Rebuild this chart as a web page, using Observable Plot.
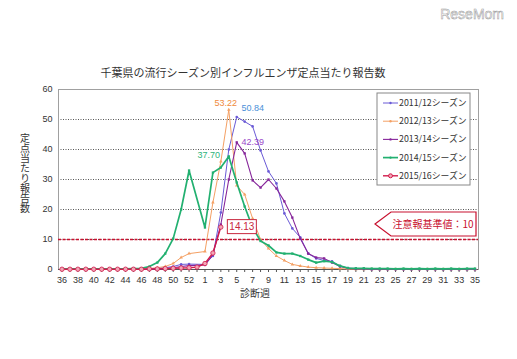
<!DOCTYPE html>
<html><head><meta charset="utf-8">
<script src="https://cdn.jsdelivr.net/npm/d3@7"></script>
<script src="https://cdn.jsdelivr.net/npm/@observablehq/plot@0.6"></script>
<style>body{margin:0;background:#fff}#chart{width:517px;height:359px}</style>
</head><body><div id="chart"></div>
<script>
// ---- data ----
const weeks = ["36","37","38","39","40","41","42","43","44","45","46","47","48","49","50","51","52","53",
  "1","2","3","4","5","6","7","8","9","10","11","12","13","14","15","16","17","18","19","20",
  "21","22","23","24","25","26","27","28","29","30","31","32","33","34","35"];
const seasons = ["2011/12シーズン","2012/13シーズン","2013/14シーズン","2014/15シーズン","2015/16シーズン"];
const s2011 = [0.1,0.1,0.1,0.1,0.1,0.1,0.1,0.1,0.1,0.2,0.2,0.3,0.4,0.6,1.0,1.7,1.8,null,
  1.7,4.5,19,40,50.84,49.3,47.7,39.7,32.7,28.7,18.7,13.7,10.7,5.3,3.7,3.0,2.7,1.2,0.5,0.3,
  0.2,0.1,0.1,0.1,0.1,0.1,0.1,0.1,0.1,0.1,0.1,0.1,0.1,0.1,0.1];
const s2012 = [0.1,0.1,0.1,0.1,0.1,0.1,0.1,0.1,0.1,0.1,0.2,0.3,0.6,1.0,2.0,4.0,5.3,null,
  6.0,22.3,36,53.22,28,25,17,10,7,4.5,3,1.7,1.2,0.8,0.6,0.5,0.4,0.3,0.2,0.1,
  0.1,0.1,0.1,0.1,0.1,0.1,0.1,0.1,0.1,0.1,0.1,0.1,0.1,0.1,0.1];
const s2013 = [0.1,0.1,0.1,0.1,0.1,0.1,0.1,0.1,0.1,0.1,0.1,0.1,0.2,0.3,0.6,1.0,1.3,null,
  1.5,5.0,15,30,42.39,38.7,29.7,27.3,30,27,22.7,17.3,10.3,5.3,4.0,3.7,2.3,1.0,0.4,0.2,
  0.2,0.1,0.1,0.1,0.1,0.1,0.1,0.1,0.1,0.1,0.1,0.1,0.1,0.1,0.1];
const s2014 = [0.2,0.2,0.2,0.2,0.2,0.2,0.2,0.2,0.2,0.3,0.4,1.0,2.3,5.3,10.3,20,33,null,
  14,32.3,34,37.7,29,21,14,9.5,8,5.7,5.3,5.3,4.5,3.3,2.3,2.8,2.5,1.2,0.5,0.4,
  0.4,0.3,0.3,0.3,0.2,0.3,0.2,0.3,0.2,0.3,0.2,0.3,0.2,0.3,0.3];
const s2015 = [0.1,0.1,0.1,0.1,0.1,0.1,0.1,0.1,0.1,0.1,0.1,0.2,0.2,0.3,0.4,0.5,0.6,0.8,
  2.0,5.5,14.13];
const seriesValues = [s2011, s2012, s2013, s2014, s2015];
const colors = ["#6a5ad6","#f4a064","#86259a","#22b070","#d21c4c"];
const labelColors = ["#4a90d8","#f08a3c","#9a48c8","#2eb47c","#c8283e"];
const peakWeeks = ["5","4","5","4","3"];
const peakLabels = ["50.84","53.22","42.39","37.70","14.13"];
const symbols = ["circle","triangle","square","square","circle"];
const yTicks = [0,10,20,30,40,50,60];
const xTickLabels = weeks.filter((d,i)=>i%2===0);
const alertLevel = 10;
const alertText = "注意報基準値：10";
const titleText = "千葉県の流行シーズン別インフルエンザ定点当たり報告数";
const yLabel = "定点当たり報告数";
const xLabel = "診断週";

// ---- build ----
const rows = [];
seriesValues.forEach((vals, k) => vals.forEach((v, i) => {
  if (v != null) rows.push({week: weeks[i], value: v, season: seasons[k]});
}));
const bySeason = s => rows.filter(r => r.season === s);
const jp = "'Noto Sans CJK JP', sans-serif";
const lat = "'Liberation Sans', Arial, sans-serif";

const marks = [
  Plot.ruleY([10,20,30,40,50], {stroke:"#555", strokeDasharray:"1,1.5", strokeWidth:1}),
  Plot.frame({stroke:"#a0a0a0"}),
  Plot.ruleY([alertLevel], {stroke:"#c8102e", strokeDasharray:"3,1.5", strokeWidth:1.6}),
  Plot.ruleY([0], {stroke:"#555"}),
  Plot.axisY({ticks: yTicks, tickSize: 0, tickPadding: 6, label: null, fill:"#333"}),
  Plot.axisX({ticks: weeks, tickSize: 3, tickFormat: () => "", label: null, stroke:"#555"}),
  Plot.axisX({ticks: xTickLabels, tickSize: 0, tickPadding: 7, label: null, fill:"#333"})
];
const widths = [1, 1, 1.1, 1.7, 1.4];
seasons.forEach((s, k) => {
  marks.push(Plot.line(bySeason(s), {x:"week", y:"value", stroke: colors[k], strokeWidth: widths[k]}));
  marks.push(Plot.dot(bySeason(s), {x:"week", y:"value", symbol: symbols[k], r: k===4 ? 2.2 : 1.3,
    fill: k===4 ? "#f2a6b6" : colors[k], stroke: k===4 ? colors[k] : "none", strokeWidth: 0.8}));
});
const labelOffsets = [[16,-9],[-3,-7],[16,0],[-20,-1],[0,0]];
seasons.forEach((s, k) => {
  if (k === 4) return;
  const vals = seriesValues[k];
  const idx = weeks.indexOf(peakWeeks[k]);
  marks.push(Plot.text([{week: peakWeeks[k], value: vals[idx]}], {x:"week", y:"value", text: () => peakLabels[k],
    dx: labelOffsets[k][0], dy: labelOffsets[k][1], fill: labelColors[k], fontSize: 9, fontFamily: lat}));
});

const plot = Plot.plot({
  width: 517, height: 359, marginLeft: 58, marginRight: 39, marginTop: 89, marginBottom: 90,
  style: {fontFamily: lat, fontSize: "9px", color: "#333", background: "white", overflow: "visible"},
  x: {type: "point", domain: weeks, padding: 0.44},
  y: {domain: [0, 60]},
  marks
});
document.getElementById("chart").appendChild(plot);

// ---- extras via d3 ----
const svg = d3.select(plot);
const xs = plot.scale("x"), ys = plot.scale("y");
const X = w => xs.apply(w), Y = v => ys.apply(v);

svg.append("text").attr("x", 243).attr("y", 77).attr("text-anchor", "middle")
  .attr("font-family", jp).attr("font-size", 11).attr("fill", "#333").text(titleText);
svg.append("text").attr("x", 25).attr("y", 133).attr("text-anchor", "start")
  .attr("font-family", jp).attr("font-size", 10).attr("fill", "#333")
  .style("writing-mode", "vertical-rl").style("text-orientation", "upright").text(yLabel);
svg.append("text").attr("x", 255).attr("y", 297).attr("text-anchor", "middle")
  .attr("font-family", jp).attr("font-size", 10).attr("fill", "#333").text(xLabel);

// legend
const lg = svg.append("g");
lg.append("rect").attr("x", 377).attr("y", 93).attr("width", 93).attr("height", 92)
  .attr("fill", "white").attr("stroke", "#888").attr("stroke-width", 1);
seasons.forEach((s, k) => {
  const cy = 103 + k * 18.2;
  lg.append("line").attr("x1", 383).attr("x2", 398).attr("y1", cy).attr("y2", cy)
    .attr("stroke", colors[k]).attr("stroke-width", widths[k]);
  lg.append("circle").attr("cx", 390.5).attr("cy", cy).attr("r", k===4 ? 2 : 1.2)
    .attr("fill", k===4 ? "#f2a6b6" : colors[k]).attr("stroke", k===4 ? colors[k] : "none");
  lg.append("text").attr("x", 399).attr("y", cy).attr("dy", "0.35em").attr("text-anchor", "start")
    .attr("font-family", jp).attr("font-size", 8.8).attr("fill", "#333").text(s);
});

// alert box
const ay = Y(15);
const ab = svg.append("g");
ab.append("path").attr("d", `M375,${ay} L391,${ay-12} L476,${ay-12} L476,${ay+12} L391,${ay+12} Z`)
  .attr("fill", "white").attr("stroke", "#c8102e").attr("stroke-width", 1.2);
ab.append("text").attr("x", 433).attr("y", ay).attr("dy", "0.36em").attr("text-anchor", "middle")
  .attr("font-family", jp).attr("font-size", 10).attr("fill", "#c8102e").text(alertText);

// 14.13 box
const px = X("3"), py = Y(14.13);
svg.append("rect").attr("x", px + 7).attr("y", py - 7).attr("width", 29).attr("height", 14)
  .attr("fill", "white").attr("stroke", "#c8283e").attr("stroke-width", 1);
svg.append("text").attr("x", px + 21.5).attr("y", py).attr("dy", "0.36em").attr("text-anchor", "middle")
  .attr("font-family", lat).attr("font-size", 10).attr("fill", "#c8283e").text(peakLabels[4]);

// watermark
svg.append("text").attr("x", 504).attr("y", 19).attr("text-anchor", "end")
  .attr("font-family", lat).attr("font-size", 14).attr("fill", "white")
  .attr("stroke", "#999").attr("stroke-width", 0.5).text("ReseMom");
</script>
</body></html>
